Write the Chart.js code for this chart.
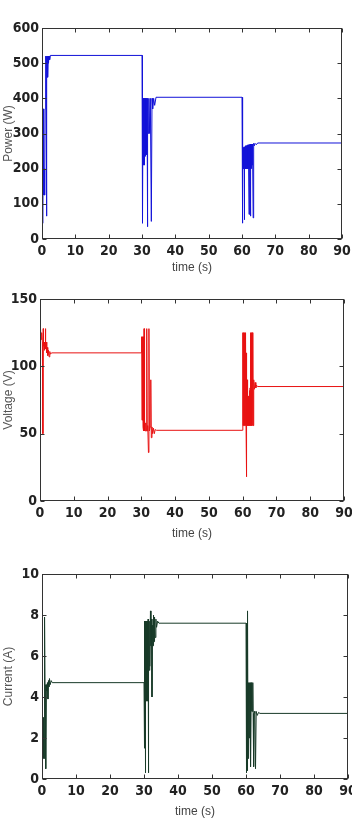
<!DOCTYPE html>
<html>
<head>
<meta charset="utf-8">
<script src="https://cdn.jsdelivr.net/npm/chart.js@4"></script>
<style>
  body { margin: 0; background: #fff; }
  canvas { position: absolute; left: 0; }
</style>
</head>
<body>
<canvas id="powerChart" width="352" height="275" style="top:0"></canvas>
<canvas id="voltageChart" width="352" height="270" style="top:275px"></canvas>
<canvas id="currentChart" width="352" height="276" style="top:545px"></canvas>
<script>
// time axis ticks (s)
const timeTicks = [0, 10, 20, 30, 40, 50, 60, 70, 80, 90];

// Power (W)
const powerT = [0, 0.15, 0.25, 0.35, 0.45, 0.55, 0.65, 0.75, 0.85, 0.95, 1.05, 1.15, 1.25, 1.35, 1.45, 1.55, 1.65, 1.75, 1.85, 1.95, 2.1, 2.3, 2.5,
  30.0, 30.05, 30.1, 30.15, 30.2, 30.25, 30.3, 30.35, 30.4, 30.45, 30.5, 30.55, 30.6, 30.65, 30.7, 30.75, 30.8, 30.85, 30.9, 30.95, 31.0, 31.05, 31.1, 31.15, 31.2, 31.25, 31.3, 31.4, 31.5, 31.6, 31.75, 31.9, 32.05, 32.3, 32.5, 32.8, 33.0, 33.2, 33.5, 33.8, 34.2,
  60.0, 60.05, 60.1, 60.15, 60.2, 60.25, 60.3, 60.35, 60.4, 60.45, 60.5, 60.55, 60.6, 60.65, 60.7, 60.75, 60.8, 60.85, 60.9, 60.95, 61.0, 61.05, 61.1, 61.15, 61.2, 61.25, 61.3, 61.35, 61.4, 61.45, 61.5, 61.55, 61.6, 61.65, 61.7, 61.75, 61.8, 61.85, 61.9, 61.95, 62.0, 62.1, 62.2, 62.25, 62.3, 62.35, 62.4, 62.5, 62.6, 62.65, 62.7, 62.75, 62.8, 62.9, 63.0, 63.1, 63.2, 63.35, 63.5, 63.7, 63.9, 64.3, 64.7, 90];
const powerW = [50, 200, 45, 370, 125, 200, 125, 200, 125, 370, 500, 520, 500, 65, 520, 460, 520, 460, 520, 500, 520, 510, 522,
  522, 190, 400, 210, 400, 45, 400, 215, 400, 210, 400, 220, 400, 215, 400, 210, 400, 225, 400, 240, 400, 235, 400, 240, 400, 245, 400, 240, 400, 35, 400, 300, 400, 300, 400, 50, 400, 370, 400, 380, 403,
  403, 120, 260, 200, 260, 45, 260, 200, 260, 200, 260, 200, 262, 200, 262, 55, 262, 200, 262, 200, 265, 200, 265, 200, 265, 200, 265, 200, 265, 200, 266, 200, 266, 200, 266, 200, 268, 200, 268, 200, 268, 70, 268, 200, 268, 200, 270, 65, 270, 200, 270, 200, 270, 210, 270, 210, 270, 60, 272, 265, 272, 268, 273, 273];
const powerTicks = [0, 100, 200, 300, 400, 500, 600];

// Voltage (V)
const voltageT = [0, 0.1, 0.2, 0.3, 0.5, 0.7, 0.85, 0.95, 1.05, 1.2, 1.35, 1.5, 1.6, 1.7, 1.85, 2.0, 2.15, 2.3, 2.5, 2.7, 2.9, 3.1, 3.4,
  30.0, 30.1, 30.2, 30.25, 30.35, 30.4, 30.5, 30.6, 30.7, 30.8, 30.9, 31.0, 31.1, 31.3, 31.45, 31.6, 31.75, 31.9, 32.1, 32.25, 32.4, 32.6, 32.8, 32.95, 33.15, 33.35, 33.6, 33.85, 34.1, 34.5,
  60.0, 60.05, 60.1, 60.15, 60.2, 60.25, 60.3, 60.35, 60.4, 60.45, 60.5, 60.55, 60.6, 60.65, 60.7, 60.75, 60.8, 60.85, 60.9, 60.95, 61.0, 61.05, 61.1, 61.15, 61.2, 61.25, 61.3, 61.35, 61.4, 61.45, 61.5, 61.55, 61.6, 61.65, 61.7, 61.75, 61.8, 61.85, 61.9, 61.95, 62.0, 62.05, 62.1, 62.15, 62.2, 62.25, 62.3, 62.35, 62.4, 62.45, 62.5, 62.55, 62.65, 62.75, 62.85, 62.95, 63.05, 63.1, 63.2, 63.35, 63.5, 63.7, 63.9, 64.1, 64.4, 90];
const voltageV = [128, 122, 128, 120, 125, 118, 50, 128, 115, 118, 112, 117, 128, 113, 118, 110, 114, 108, 112, 107, 111, 109, 110,
  110, 122, 60, 122, 60, 122, 55, 122, 52, 128, 52, 60, 52, 58, 52, 128, 52, 56, 36, 128, 52, 55, 90, 47, 55, 50, 54, 50, 53, 52.5,
  52.5, 125, 56, 125, 56, 124, 56, 125, 56, 124, 56, 125, 56, 124, 56, 125, 56, 124, 56, 120, 56, 110, 56, 18, 100, 56, 90, 56, 85, 56, 80, 56, 78, 56, 76, 56, 75, 56, 78, 56, 80, 56, 82, 56, 84, 56, 86, 56, 125, 56, 124, 56, 125, 56, 125, 56, 125, 56, 84, 90, 83, 88, 84, 86, 85, 85];
const voltageTicks = [0, 50, 100, 150];

// Current (A)
const currentT = [0, 0.1, 0.2, 0.3, 0.4, 0.5, 0.6, 0.75, 0.9, 1.05, 1.15, 1.3, 1.45, 1.6, 1.75, 1.9, 2.05, 2.2, 2.4, 2.7, 3.0,
  30.0, 30.05, 30.1, 30.15, 30.2, 30.25, 30.3, 30.35, 30.4, 30.45, 30.5, 30.55, 30.6, 30.65, 30.7, 30.75, 30.8, 30.85, 30.9, 30.95, 31.0, 31.05, 31.1, 31.15, 31.2, 31.25, 31.3, 31.35, 31.45, 31.55, 31.65, 31.75, 31.9, 32.05, 32.2, 32.35, 32.5, 32.65, 32.8, 32.95, 33.1, 33.3, 33.5, 33.7, 34.0, 34.4,
  60.0, 60.05, 60.1, 60.15, 60.2, 60.25, 60.3, 60.35, 60.4, 60.45, 60.5, 60.55, 60.6, 60.65, 60.7, 60.75, 60.8, 60.85, 60.9, 60.95, 61.0, 61.05, 61.1, 61.15, 61.2, 61.25, 61.3, 61.35, 61.45, 61.55, 61.65, 61.75, 61.85, 62.0, 62.1, 62.25, 62.4, 62.6, 62.8, 63.0, 63.3, 63.7, 64.1, 90];
const currentA = [0.4, 1.5, 0.9, 3.0, 1.0, 3.0, 1.0, 7.9, 4.4, 4.6, 0.5, 4.6, 4.3, 4.7, 3.9, 4.8, 4.5, 4.9, 4.6, 4.8, 4.7,
  4.7, 1.5, 7.7, 3.2, 7.7, 3.5, 7.7, 3.8, 7.7, 0.3, 7.7, 3.8, 7.7, 3.8, 7.7, 3.9, 7.7, 3.8, 7.7, 3.8, 7.7, 3.8, 7.7, 3.8, 7.8, 3.8, 7.8, 0.3, 7.7, 5.3, 7.7, 5.5, 8.2, 6.5, 7.8, 4.0, 7.5, 6.5, 8.0, 6.7, 7.9, 6.9, 7.8, 7.4, 7.7, 7.6,
  7.6, 1.0, 4.3, 0.3, 4.7, 2.3, 4.7, 1.5, 4.7, 0.4, 4.7, 8.2, 1.0, 4.7, 2.0, 4.7, 2.5, 4.7, 2.0, 4.7, 2.5, 4.7, 3.0, 4.7, 2.8, 4.7, 3.3, 4.7, 0.6, 4.7, 3.3, 4.7, 3.3, 4.7, 3.2, 0.6, 3.3, 3.2, 0.5, 3.3, 3.1, 3.25, 3.2, 3.2];
const currentTicks = [0, 2, 4, 6, 8, 10];

const tickFont = { family: '"Liberation Sans Narrow", "DejaVu Sans Condensed", sans-serif', size: 14, weight: 'bold' };

// box round the plot with inward ticks on all four sides, like matlab
const boxTicks = {
  id: 'boxTicks',
  afterDraw(chart) {
    const { ctx, chartArea: a, scales: { x, y } } = chart;
    const L = Math.round(a.left) + 0.5, R = Math.round(a.right) - 0.5;
    const T = Math.round(a.top) + 0.5, B = Math.round(a.bottom) - 0.5;
    ctx.save();
    ctx.strokeStyle = '#333';
    ctx.lineWidth = 1;
    ctx.strokeRect(L, T, R - L, B - T);
    ctx.beginPath();
    x.ticks.forEach(t => {
      const px = Math.round(x.getPixelForValue(t.value)) + 0.5;
      ctx.moveTo(px, B); ctx.lineTo(px, B - 4);
      ctx.moveTo(px, T); ctx.lineTo(px, T + 4);
    });
    y.ticks.forEach(t => {
      const py = Math.round(y.getPixelForValue(t.value)) + 0.5;
      ctx.moveTo(L, py); ctx.lineTo(L + 4, py);
      ctx.moveTo(R, py); ctx.lineTo(R - 4, py);
    });
    ctx.stroke();
    ctx.restore();
  }
};

function drawPanel(id, xs, ys, yTicks, color, yTitle, box) {
  const pts = xs.map((t, i) => ({ x: t, y: ys[i] }));
  const yMax = yTicks[yTicks.length - 1];
  new Chart(document.getElementById(id), {
    type: 'line',
    data: { datasets: [{ data: pts, borderColor: color, borderWidth: 1, pointRadius: 0, tension: 0 }] },
    options: {
      responsive: false,
      animation: false,
      layout: { padding: { top: box.top, right: box.right, left: 0, bottom: 0 } },
      plugins: { legend: { display: false }, tooltip: { enabled: false } },
      scales: {
        x: {
          type: 'linear', min: 0, max: 90,
          afterBuildTicks: s => { s.ticks = timeTicks.map(v => ({ value: v })); },
          afterFit: s => { s.height = box.xh; s.paddingLeft = 0; s.paddingRight = 0; },
          grid: { display: false, drawTicks: false },
          border: { display: false },
          ticks: { color: '#222', font: tickFont, padding: 4, maxRotation: 0, autoSkip: false },
          title: { display: true, text: 'time (s)', color: '#444', padding: { top: 0, bottom: box.tpad },
            font: { family: '"Liberation Sans Narrow", "Liberation Sans", sans-serif', size: 12 } }
        },
        y: {
          min: 0, max: yMax,
          afterBuildTicks: s => { s.ticks = yTicks.map(v => ({ value: v })); },
          afterFit: s => { s.width = box.left; s.paddingTop = 0; s.paddingBottom = 0; },
          grid: { display: false, drawTicks: false },
          border: { display: false },
          ticks: { color: '#222', font: tickFont, padding: 3, autoSkip: false },
          title: { display: true, text: yTitle, color: '#555', padding: { top: 1, bottom: 0 },
            font: { family: '"Liberation Sans", Arial, sans-serif', size: 12 } }
        }
      }
    },
    plugins: [boxTicks]
  });
}

drawPanel('powerChart', powerT, powerW, powerTicks, '#1212d8', 'Power (W)', { top: 28, right: 10, left: 42, xh: 36, tpad: 0 });
drawPanel('voltageChart', voltageT, voltageV, voltageTicks, '#e81212', 'Voltage (V)', { top: 24, right: 8, left: 40, xh: 44, tpad: 4 });
drawPanel('currentChart', currentT, currentA, currentTicks, '#183a28', 'Current (A)', { top: 29, right: 4, left: 42, xh: 42, tpad: 2 });
</script>
</body>
</html>
